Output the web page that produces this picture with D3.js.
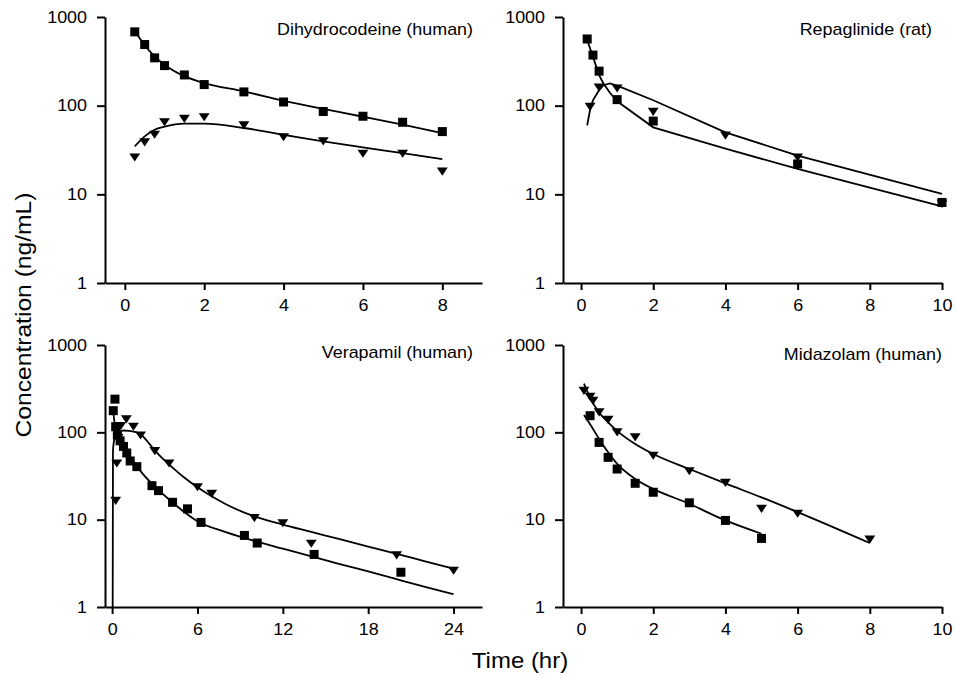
<!DOCTYPE html>
<html>
<head>
<meta charset="utf-8">
<script src="https://cdn.jsdelivr.net/npm/d3@7"></script>
<style>
  body { margin: 0; background: #fff; }
  svg text { font-family: "Liberation Sans", Arial, sans-serif; fill: #000; }
</style>
</head>
<body>
<div id="chart"></div>
<script>
// y ticks, shared by all four panels
const concTicks = [1, 10, 100, 1000];

// Dihydrocodeine (human)
const dhcTicks = [0, 2, 4, 6, 8];
const dhcTime = [0.25, 0.5, 0.75, 1, 1.5, 2, 3, 4, 5, 6, 7, 8];
const dhcSquare = [680, 489, 346, 283, 222, 173, 143, 110, 86, 76, 65, 51];
const dhcTriangle = [26, 38.5, 47, 65, 71, 74, 60, 44, 39.5, 28.7, 28.7, 18];
const dhcFitTime = [0.25, 0.5, 0.75, 1, 1.5, 2, 3, 4, 5, 6, 7, 8];
const dhcFitSquare = [700, 480, 360, 290, 215, 180, 145, 113, 92, 75, 61, 49];
const dhcFitTriangle = [34.7, 45, 53.5, 58, 62.6, 62.6, 56, 47, 39.5, 33.8, 29.2, 25];

// Repaglinide (rat)
const repTicks = [0, 2, 4, 6, 8, 10];
const repSquareTime = [0.17, 0.33, 0.5, 1, 2, 6, 10];
const repSquare = [565, 372, 245, 117, 67, 22, 8.1];
const repTriangleTime = [0.25, 0.5, 1, 2, 4, 6, 10];
const repTriangle = [97, 160, 156, 85, 46, 26, 7.8];
const repFitSquareTime = [0.17, 0.33, 0.5, 0.62, 0.8, 1, 2, 4, 6, 10];
const repFitSquare = [550, 356, 221, 178, 140, 112, 57, 32.7, 19.4, 7.3];
const repFitTriangleTime = [0.17, 0.25, 0.33, 0.5, 0.62, 0.8, 1, 2, 4, 6, 10];
const repFitTriangle = [60, 90, 115, 150, 170, 178, 168, 115, 50, 27.4, 10.1];

// Verapamil (human)
const verTicks = [0, 6, 12, 18, 24];
const verSquareTime = [0.08, 0.2, 0.25, 0.37, 0.56, 0.8, 1.03, 1.27, 1.74, 2.8, 3.26, 4.25, 5.3, 6.25, 9.3, 10.2, 14.2, 20.3];
const verSquare = [177, 240, 116, 93, 80, 69, 58, 47, 40.5, 24.5, 21.5, 15.8, 13.3, 9.3, 6.6, 5.4, 4.0, 2.5];
const verTriangleTime = [0.25, 0.33, 0.42, 0.6, 1, 1.5, 2, 3, 4, 6, 7, 10, 12, 14, 20, 24];
const verTriangle = [16.4, 44, 86, 118, 141, 116, 92, 61, 44, 23.5, 19.7, 10.4, 9.1, 5.3, 3.9, 2.6];
const verFitSquareTime = [0.1, 0.2, 0.35, 0.5, 0.75, 1, 1.5, 2, 3, 4, 5, 6, 8, 10, 12, 14, 16, 18, 20, 22, 24];
const verFitSquare = [160, 120, 96, 84, 70, 60, 47, 36, 24, 17, 12.5, 9.6, 7.2, 5.7, 4.65, 3.8, 3.1, 2.55, 2.08, 1.7, 1.4];
const verFitTriangleTime = [0.04, 0.06, 0.12, 0.25, 0.5, 0.8, 1.2, 1.6, 2, 2.5, 3, 3.5, 4, 5, 6, 7, 8, 10, 12, 14, 16, 18, 20, 22, 24];
const verFitTriangle = [1, 60, 78, 92, 101, 105, 104, 101, 95, 78, 62, 51, 43, 31, 23.5, 18.5, 15, 10.9, 8.8, 7.25, 5.97, 4.92, 4.06, 3.34, 2.75];

// Midazolam (human)
const midTicks = [0, 2, 4, 6, 8, 10];
const midSquareTime = [0.25, 0.5, 0.75, 1, 1.5, 2, 3, 4, 5];
const midSquare = [155, 76.7, 51.7, 38, 26.1, 20.6, 15.6, 9.8, 6.1];
const midTriangleTime = [0.08, 0.25, 0.33, 0.5, 0.75, 1, 1.5, 2, 3, 4, 5, 6, 8];
const midTriangle = [298, 255, 229, 169, 139, 100, 87.5, 54, 35.8, 26.4, 13.3, 11.7, 5.9];
const midFitSquareTime = [0.08, 0.25, 0.5, 0.75, 1, 1.5, 2, 3, 4, 5];
const midFitSquare = [158, 124, 84, 59, 43.5, 29.3, 22.5, 15.2, 9.8, 6.9];
const midFitTriangleTime = [0.08, 0.25, 0.5, 0.75, 1, 1.5, 2, 3, 4, 5, 6, 8];
const midFitTriangle = [361, 250, 169, 130, 104, 73.5, 56.5, 38, 26, 18, 12.2, 5.4];

const zip = (xs, ys) => xs.map((x, i) => ({ x: x, y: ys[i] }));

const panels = [
  {
    title: "Dihydrocodeine (human)", ticks: dhcTicks, xDomain: [-0.5, 9],
    left: 105, right: 482, top: 17, bottom: 283, titleX: 473, titleY: 35,
    squares: zip(dhcTime, dhcSquare), triangles: zip(dhcTime, dhcTriangle),
    fits: [zip(dhcFitTime, dhcFitSquare), zip(dhcFitTime, dhcFitTriangle)],
    curve: d3.curveMonotoneX
  },
  {
    title: "Repaglinide (rat)", ticks: repTicks, xDomain: [-0.5, 10],
    left: 563, right: 942, top: 17, bottom: 283, titleX: 932, titleY: 35,
    squares: zip(repSquareTime, repSquare), triangles: zip(repTriangleTime, repTriangle),
    fits: [zip(repFitSquareTime, repFitSquare), zip(repFitTriangleTime, repFitTriangle)],
    curve: d3.curveLinear
  },
  {
    title: "Verapamil (human)", ticks: verTicks, xDomain: [-0.5, 26],
    left: 105, right: 482, top: 345, bottom: 607, titleX: 473, titleY: 358,
    squares: zip(verSquareTime, verSquare), triangles: zip(verTriangleTime, verTriangle),
    fits: [zip(verFitSquareTime, verFitSquare), zip(verFitTriangleTime, verFitTriangle)],
    curve: d3.curveMonotoneX
  },
  {
    title: "Midazolam (human)", ticks: midTicks, xDomain: [-0.5, 10],
    left: 563, right: 942, top: 345, bottom: 607, titleX: 942, titleY: 360,
    squares: zip(midSquareTime, midSquare), triangles: zip(midTriangleTime, midTriangle),
    fits: [zip(midFitSquareTime, midFitSquare), zip(midFitTriangleTime, midFitTriangle)],
    curve: d3.curveMonotoneX
  }
];

const width = 957, height = 679;
const stretch = 1.12;   // the source type is a bit wider than Arial

const svg = d3.select("#chart").append("svg")
  .attr("width", width)
  .attr("height", height);

// down-pointing triangle, a little flatter than equilateral
const triangleDown = {
  draw(ctx, size) {
    const w = Math.sqrt(size) * 1.3, h = w * 0.75;
    ctx.moveTo(-w / 2, -h / 2);
    ctx.lineTo(w / 2, -h / 2);
    ctx.lineTo(0, h / 2);
    ctx.closePath();
  }
};

function stretchTicks(g) {
  g.selectAll(".tick text").each(function() {
    const t = d3.select(this);
    const x = +t.attr("x") || 0;
    t.attr("x", x / stretch).attr("transform", `scale(${stretch},1)`);
  });
}

panels.forEach(p => {
  const x = d3.scaleLinear().domain(p.xDomain).range([p.left, p.right]);
  const y = d3.scaleLog().domain([1, 1000]).range([p.bottom, p.top]);

  const line = d3.line()
    .x(d => x(d.x))
    .y(d => y(d.y))
    .curve(p.curve);

  p.fits.forEach(f => {
    svg.append("path")
      .datum(f)
      .attr("fill", "none")
      .attr("stroke", "#000")
      .attr("stroke-width", 1.8)
      .attr("d", line);
  });

  svg.append("g")
    .selectAll("path")
    .data(p.triangles)
    .join("path")
    .attr("transform", d => `translate(${x(d.x)},${y(d.y)})`)
    .attr("d", d3.symbol(triangleDown, 70))
    .attr("fill", "#000");

  svg.append("g")
    .selectAll("rect")
    .data(p.squares)
    .join("rect")
    .attr("x", d => x(d.x) - 4.5)
    .attr("y", d => y(d.y) - 4.5)
    .attr("width", 9)
    .attr("height", 9)
    .attr("fill", "#000");

  // X-axis
  const gx = svg.append("g")
    .attr("transform", `translate(0,${p.bottom})`)
    .call(d3.axisBottom(x).tickValues(p.ticks).tickSize(7).tickSizeOuter(0).tickPadding(10).tickFormat(d3.format("d")));

  // Y-axis
  const gy = svg.append("g")
    .attr("transform", `translate(${p.left},0)`)
    .call(d3.axisLeft(y).tickValues(concTicks).tickSize(8).tickSizeOuter(0).tickPadding(10).tickFormat(d3.format("d")));

  [gx, gy].forEach(g => {
    g.attr("font-size", 16).attr("font-family", null);
    g.selectAll("path, line").attr("stroke-width", 2);
    stretchTicks(g);
  });

  svg.append("text")
    .attr("transform", `translate(${p.titleX},${p.titleY}) scale(${stretch},1)`)
    .attr("text-anchor", "end")
    .style("font-size", "16px")
    .text(p.title);
});

// Y-axis label
svg.append("text")
  .attr("transform", `translate(31,315) rotate(-90) scale(${stretch},1)`)
  .attr("text-anchor", "middle")
  .style("font-size", "22px")
  .text("Concentration (ng/mL)");

// X-axis label
svg.append("text")
  .attr("transform", "translate(520,668) scale(1.09,1)")
  .attr("text-anchor", "middle")
  .style("font-size", "22px")
  .text("Time (hr)");
</script>
</body>
</html>
